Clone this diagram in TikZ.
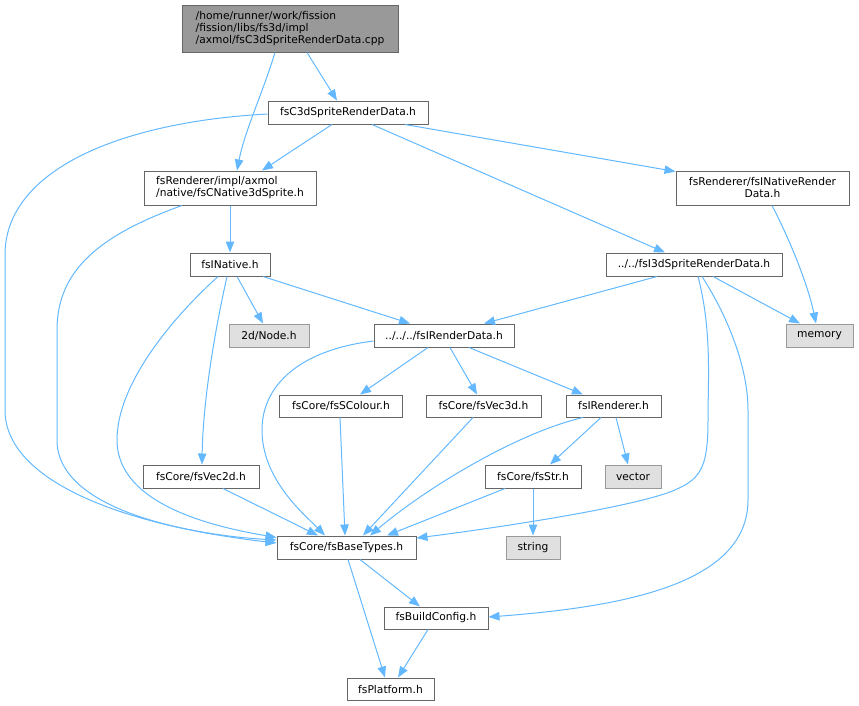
\documentclass[tikz,border=0pt]{standalone}
\usepackage{fontspec}
\setmainfont{DejaVu Sans}
\usetikzlibrary{arrows.meta}
\definecolor{edgecol}{HTML}{63B8FF}
\definecolor{boxcol}{HTML}{666666}
\definecolor{extcol}{HTML}{999999}
\definecolor{extfill}{HTML}{E0E0E0}
\definecolor{cppfill}{HTML}{999999}
\tikzset{
  box/.style={draw=boxcol, line width=1pt, fill=white, rectangle, inner sep=0pt,
    minimum height=23pt, font=\fontsize{10.7}{12}\selectfont, text=black},
  extbox/.style={box, draw=extcol, fill=extfill},
  cppbox/.style={box, draw=boxcol, fill=cppfill, align=left},
  dep/.style={draw=edgecol, line width=1pt, -{Triangle[length=11pt,width=8.5pt]}}
}
\begin{document}
\begin{tikzpicture}[x=1pt,y=-1pt]
\path[use as bounding box] (0,0) rectangle (859,705);

\node[cppbox, minimum width=216pt, minimum height=47pt] (cpp) at (290,28.5)
  {/home/runner/work/fission\\/fission/libs/fs3d/impl\\/axmol/fsC3dSpriteRenderData.cpp};
\node[box, minimum width=160pt] (c3d) at (348,112.5) {fsC3dSpriteRenderData.h};
\node[box, minimum width=172pt, minimum height=34pt, align=left] (cnat) at (230,188)
  {fsRenderer/impl/axmol\\/native/fsCNative3dSprite.h};
\node[box, minimum width=173pt, minimum height=34pt, align=center] (nrd) at (762.5,188)
  {fsRenderer/fsINativeRender\\Data.h};
\node[box, minimum width=80pt] (inat) at (230,264.5) {fsINative.h};
\node[box, minimum width=176pt] (i3d) at (694,264.5) {../../fsI3dSpriteRenderData.h};
\node[extbox, minimum width=80pt] (node2d) at (269,335.5) {2d/Node.h};
\node[box, minimum width=140pt] (ird) at (444,335.5) {../../../fsIRenderData.h};
\node[extbox, minimum width=67pt] (mem) at (819.5,335.5) {memory};
\node[box, minimum width=123pt, minimum height=22pt] (scol) at (341,406) {fsCore/fsSColour.h};
\node[box, minimum width=115pt, minimum height=22pt] (v3d) at (483.5,406) {fsCore/fsVec3d.h};
\node[box, minimum width=95pt, minimum height=22pt] (rend) at (613.5,406) {fsIRenderer.h};
\node[extbox, minimum width=56pt] (vec) at (633,476.5) {vector};
\node[box, minimum width=116pt] (v2d) at (201,476.5) {fsCore/fsVec2d.h};
\node[box, minimum width=96pt] (str) at (533,476.5) {fsCore/fsStr.h};
\node[box, minimum width=139pt] (base) at (346.5,547.5) {fsCore/fsBaseTypes.h};
\node[extbox, minimum width=54pt] (strg) at (533,547.5) {string};
\node[box, minimum width=104pt, minimum height=22pt] (bcfg) at (436,618) {fsBuildConfig.h};
\node[box, minimum width=87pt, minimum height=22pt] (plat) at (390.5,689) {fsPlatform.h};

% edges
\draw[dep] ([xshift=-15pt]cpp.south) .. controls (262,95) and (245,130) .. ([xshift=7pt]cnat.north);
\draw[dep] ([xshift=17pt]cpp.south) -- ([xshift=-11pt]c3d.north);
\draw[dep] ([yshift=-1.5pt]c3d.west) .. controls (120,122) and (5,170) .. (5,255) -- (5,410)
  .. controls (5,480) and (120,525) .. ([yshift=4.5pt]base.west);
\draw[dep] ([xshift=-16pt]c3d.south) -- ([xshift=32pt]cnat.north);
\draw[dep] ([xshift=57pt]c3d.south) -- ([yshift=-1pt]nrd.north west);
\draw[dep] ([xshift=24pt]c3d.south) -- ([xshift=-29pt]i3d.north);
\draw[dep] (cnat.south) -- (inat.north);
\draw[dep] ([xshift=-48pt]cnat.south) .. controls (100,235) and (57,270) .. (57,330) -- (57,440)
  .. controls (57,510) and (190,535) .. ([yshift=7.5pt]base.west);
\draw[dep] ([xshift=7pt]inat.south) -- ([xshift=-6pt]node2d.north);
\draw[dep] ([xshift=33pt]inat.south) -- ([xshift=-34pt]ird.north);
\draw[dep] ([xshift=-12pt]inat.south) .. controls (170,320) and (117,385) .. (117,440)
  .. controls (117,505) and (215,527) .. ([yshift=10pt]base.west);
\draw[dep] ([xshift=-3pt]inat.south) .. controls (215,330) and (203,400) .. ([xshift=1pt]v2d.north);
\draw[dep] ([xshift=9.5pt]nrd.south) .. controls (790,240) and (808,285) .. ([xshift=-3.5pt]mem.north);
\draw[dep] ([xshift=-37pt]i3d.south) -- ([xshift=40pt]ird.north);
\draw[dep] ([xshift=19pt]i3d.south) -- ([xshift=-19.5pt]mem.north);
\draw[dep] ([xshift=4pt]i3d.south) .. controls (712,330) and (708,380) .. (708,420)
  .. controls (708,470) and (700,480) .. (670,492)
  .. controls (620,510) and (480,530) .. ([yshift=9.5pt]base.east);
\draw[dep] ([xshift=8pt]i3d.south) .. controls (730,320) and (748,370) .. (748,410) -- (748,500)
  .. controls (748,585) and (620,607) .. ([yshift=1pt]bcfg.east);
\draw[dep] ([yshift=-5.5pt]ird.west) .. controls (300,350) and (262,385) .. (262,430)
  .. controls (262,480) and (305,515) .. ([xshift=-21.5pt]base.north);
\draw[dep] ([xshift=-16pt]ird.south) -- ([xshift=19pt]scol.north);
\draw[dep] ([xshift=6pt]ird.south) -- ([xshift=-6.5pt]v3d.north);
\draw[dep] ([xshift=25pt]ird.south) -- ([xshift=-30.5pt]rend.north);
\draw[dep] ([xshift=-1pt]scol.south) -- ([xshift=-1.5pt]base.north);
\draw[dep] ([xshift=-10.5pt]v3d.south) -- ([xshift=16.5pt]base.north);
\draw[dep] ([xshift=-30.5pt]rend.south) .. controls (520,432) and (430,485) .. ([xshift=23.5pt]base.north);
\draw[dep] ([xshift=-12.5pt]rend.south) -- ([xshift=17pt]str.north);
\draw[dep] ([xshift=2.5pt]rend.south) -- ([xshift=-5pt]vec.north);
\draw[dep] ([xshift=22pt]v2d.south) -- ([xshift=-28.5pt]base.north);
\draw[dep] ([xshift=-28pt]str.south) -- ([xshift=40.5pt]base.north);
\draw[dep] (str.south) -- (strg.north);
\draw[dep] ([xshift=13.5pt]base.south) -- ([xshift=-16pt]bcfg.north);
\draw[dep] ([xshift=1.5pt]base.south) -- ([xshift=-5.5pt]plat.north);
\draw[dep] ([xshift=-8pt]bcfg.south) -- ([xshift=7.5pt]plat.north);
\end{tikzpicture}
\end{document}
